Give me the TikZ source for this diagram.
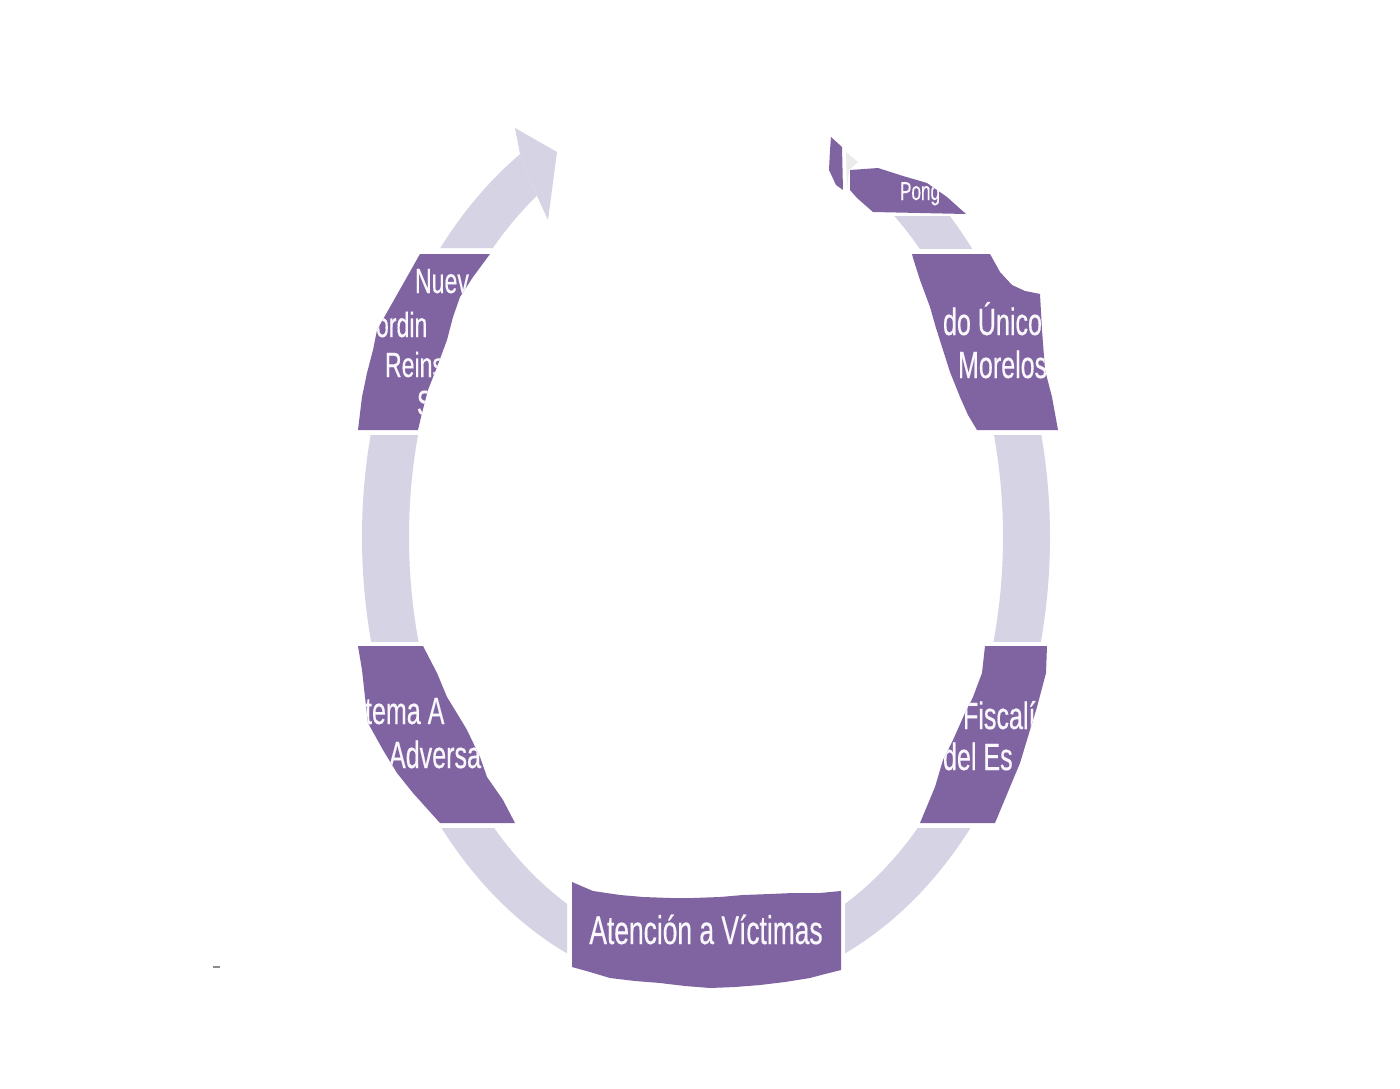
\documentclass[tikz,border=0pt]{standalone}
\usepackage{fontspec}
\newfontfamily\boxfont[FakeStretch=0.66,FakeBold=0.35]{Liberation Sans}
\definecolor{boxc}{RGB}{128,100,162}
\definecolor{ringc}{RGB}{213,211,228}
\definecolor{textc}{RGB}{250,248,253}
\tikzset{
  ringseg/.style={fill=ringc, even odd rule},
  lbl/.style={anchor=base west, inner sep=0pt, outer sep=0pt, text=textc,
    font=\boxfont\fontsize{38}{42}\selectfont},
  nlbl/.style={lbl, font=\boxfont\fontsize{35}{39}\selectfont},
  biglbl/.style={lbl, anchor=base, font=\boxfont\fontsize{40}{44}\selectfont},
  smalllbl/.style={lbl, font=\boxfont\fontsize{26}{30}\selectfont},
}
\begin{document}
\begin{tikzpicture}[x=1pt,y=-1pt]
\useasboundingbox (0,0) rectangle (1400,1089);
\fill[white] (0,0) rectangle (1400,1089);

% ---- ring segments ----
\begin{scope}
  \clip (706,216) rectangle (1100,248);
  \fill[ringseg] (706,537) ellipse [x radius=344pt, y radius=455pt]
                 (706,537) ellipse [x radius=297pt, y radius=415pt];
\end{scope}
\begin{scope}
  \clip (706,435) rectangle (1100,641);
  \fill[ringseg] (706,537) ellipse [x radius=344pt, y radius=455pt]
                 (706,537) ellipse [x radius=297pt, y radius=415pt];
\end{scope}
\begin{scope}
  \clip (845,828) rectangle (1100,1089);
  \fill[ringseg] (706,537) ellipse [x radius=344pt, y radius=455pt]
                 (706,537) ellipse [x radius=297pt, y radius=415pt];
\end{scope}
\begin{scope}
  \clip (0,828) rectangle (567,1089);
  \fill[ringseg] (706,537) ellipse [x radius=344pt, y radius=455pt]
                 (706,537) ellipse [x radius=297pt, y radius=415pt];
\end{scope}
\begin{scope}
  \clip (0,435) rectangle (706,641);
  \fill[ringseg] (706,537) ellipse [x radius=344pt, y radius=455pt]
                 (706,537) ellipse [x radius=297pt, y radius=415pt];
\end{scope}
\begin{scope}
  \clip (0,248) -- (0,-20) -- (452,-14) -- (558,248) -- cycle;
  \fill[ringseg] (706,537) ellipse [x radius=344pt, y radius=455pt]
                 (706,537) ellipse [x radius=297pt, y radius=415pt];
\end{scope}
% arrow head
\fill[ringc] (520,154) -- (515,128) -- (557,152) -- (548,220) -- (537,196) -- cycle;

% ---- top right fragments ----
\fill[boxc] (831,137) -- (842,147) -- (843,190) -- (836,185) -- (829,170) -- (830,150) -- cycle;
\fill[black!8] (846,152) -- (858,162) -- (849,170) -- (847,190) -- cycle;
\begin{scope}
  \clip (850,170) -- (878,168) -- (903,176) -- (927,183) -- (947,197) -- (966,214)
        -- (873,212) -- (857,198) -- (850,190) -- cycle;
  \fill[boxc] (0,0) rectangle (1400,1089);
  \node[smalllbl] (pong) at (900,200) {Pong};
\end{scope}

% ---- right upper box ----
\begin{scope}
  \clip (912,254) -- (990,254) -- (1000,272) -- (1012,285) -- (1025,291) -- (1040,294)
        -- (1042,330) -- (1045,370) -- (1052,397) -- (1058,430) -- (977,430)
        -- (968,415) -- (960,397) -- (950,372) -- (943,350) -- (936,328)
        -- (930,307) -- (920,280) -- (913,258) -- cycle;
  \fill[boxc] (0,0) rectangle (1400,1089);
  \node[lbl] (unico1) at (943,335) {do Único};
  \node[lbl] (unico2) at (958,378) {Morelos};
\end{scope}

% ---- left upper box ----
\begin{scope}
  \clip (420,254) -- (490,254) -- (473,277) -- (460,297) -- (453,317) -- (447,340)
        -- (437,367) -- (428,390) -- (422,413) -- (418,430) -- (358,430)
        -- (362,397) -- (367,373) -- (373,350) -- (377,330) -- (390,307)
        -- (407,277) -- cycle;
  \fill[boxc] (0,0) rectangle (1400,1089);
  \node[nlbl] (nueva1) at (415,293) {Nuev};
  \node[nlbl] (nueva2) at (376,337) {ordin};
  \node[nlbl] (nueva3) at (385,377) {Reins};
  \node[nlbl] (nueva4) at (417,415) {S};
\end{scope}

% ---- left lower box ----
\begin{scope}
  \clip (358,646) -- (423,646) -- (437,673) -- (447,697) -- (458,715) -- (467,730)
        -- (480,757) -- (487,777) -- (503,800) -- (515,823) -- (440,823)
        -- (413,793) -- (397,773) -- (383,750) -- (368,723) -- (365,697)
        -- (362,670) -- cycle;
  \fill[boxc] (0,0) rectangle (1400,1089);
  \node[lbl] (sist1) at (365,724) {tema A};
  \node[lbl] (sist2) at (389,768) {Adversa};
\end{scope}

% ---- right lower box ----
\begin{scope}
  \clip (985,646) -- (1047,646) -- (1046,673) -- (1037,707) -- (1030,730)
        -- (1020,763) -- (1010,787) -- (995,823) -- (920,823) -- (935,787)
        -- (943,760) -- (953,740) -- (965,713) -- (973,697) -- (982,673) -- cycle;
  \fill[boxc] (0,0) rectangle (1400,1089);
  \node[lbl] (fisc1) at (963,729) {Fiscalí};
  \node[lbl] (fisc2) at (943,770) {del Es};
\end{scope}

% ---- bottom box ----
\begin{scope}
  \clip (572,882) -- (593,891) -- (620,895) -- (643,897) -- (670,898) -- (693,898)
        -- (720,897) -- (743,895) -- (770,894) -- (793,893) -- (820,893) -- (841,891)
        -- (841,970) -- (825,974) -- (810,978) -- (785,982) -- (760,985) -- (735,987)
        -- (710,988) -- (685,986) -- (660,983) -- (635,981) -- (610,978) -- (590,972)
        -- (572,967) -- cycle;
  \fill[boxc] (0,0) rectangle (1400,1089);
  \node[biglbl] (atencion) at (706,944) {Atención a Víctimas};
\end{scope}

% stray mark
\fill[black!45] (213,966) rectangle (220,968);
\end{tikzpicture}
\end{document}
